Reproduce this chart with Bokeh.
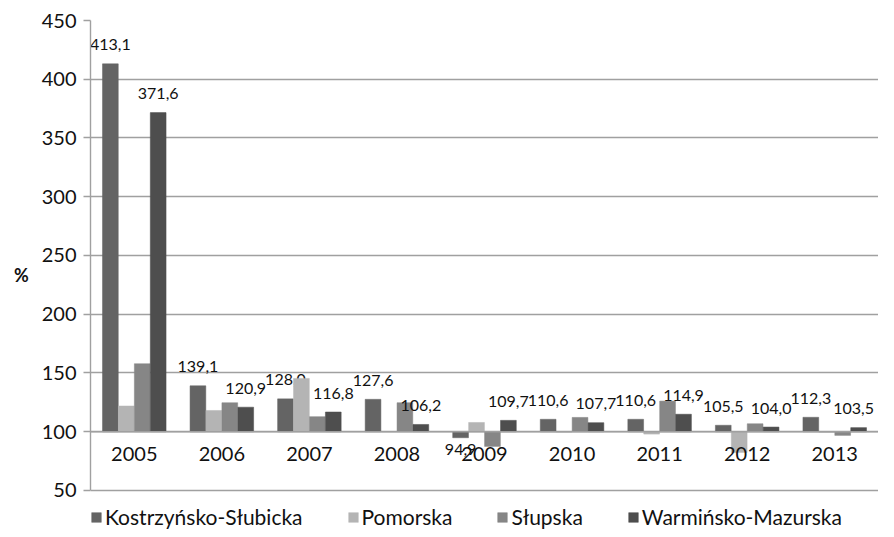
from bokeh.plotting import figure
from bokeh.models import (ColumnDataSource, FactorRange, Range1d, FixedTicker,
                          Legend, LegendItem, Span)
from bokeh.transform import dodge
from bokeh.core.properties import value
from bokeh.embed import file_html
from bokeh.resources import INLINE

years = ["2005", "2006", "2007", "2008", "2009", "2010", "2011", "2012", "2013"]
series_names = ["Kostrzyńsko-Słubicka", "Pomorska", "Słupska", "Warmińsko-Mazurska"]
kostrzynsko = [413.1, 139.1, 128.0, 127.6, 94.9, 110.6, 110.6, 105.5, 112.3]
pomorska = [121.9, 118.1, 145.4, 100.0, 107.9, 99.6, 98.0, 82.4, 99.5]
slupska = [157.9, 124.7, 112.8, 124.7, 87.5, 112.2, 126.1, 106.8, 96.9]
warminsko = [371.6, 120.9, 116.8, 106.2, 109.7, 107.7, 114.9, 104.0, 103.5]
y_ticks = [50, 100, 150, 200, 250, 300, 350, 400, 450]
baseline = 100
labelled = [True, False, False, True]

series_values = [kostrzynsko, pomorska, slupska, warminsko]
colors = ["#646464", "#b4b4b4", "#868686", "#4e4e4e"]
offsets = [-0.273, -0.091, 0.091, 0.273]
FONT = "Lato"

p = figure(width=878, height=529, output_backend="svg", toolbar_location=None,
           x_range=FactorRange(*years, range_padding=0),
           y_range=Range1d(16.8, 450), x_axis_location=None,
           min_border_left=90, min_border_right=0, min_border_top=20,
           min_border_bottom=0)
p.outline_line_color = None
p.background_fill_color = "white"
p.border_fill_color = "white"

p.xgrid.grid_line_color = None
p.ygrid.grid_line_color = "#a0a0a0"
p.ygrid.grid_line_width = 1.4

ax = p.yaxis[0]
ax.ticker = FixedTicker(ticks=y_ticks)
ax.bounds = (y_ticks[0], y_ticks[-1])
ax.axis_line_color = "#a0a0a0"
ax.axis_line_width = 1.4
ax.major_tick_line_color = "#a0a0a0"
ax.major_tick_line_width = 1.4
ax.major_tick_out = 7
ax.major_tick_in = 0
ax.minor_tick_line_color = None
ax.major_label_standoff = 7
ax.major_label_text_font = FONT
ax.major_label_text_font_size = "20px"
ax.major_label_text_color = "#111111"
ax.axis_label = "%"
ax.axis_label_orientation = "horizontal"
ax.axis_label_standoff = 10
ax.axis_label_text_font = FONT
ax.axis_label_text_font_size = "18px"
ax.axis_label_text_font_style = "bold"
ax.axis_label_text_color = "#111111"

p.add_layout(Span(location=baseline, dimension="width", line_color="#a0a0a0",
                  line_width=1.6))

n = len(years)
items = []
for name, vals, col, off, lab in zip(series_names, series_values, colors, offsets, labelled):
    src = ColumnDataSource(dict(
        year=years, val=vals,
        txt=[f"{v:.1f}".replace(".", ",") for v in vals],
        yoff=[-19 if v >= baseline else 12 for v in vals],
        # keep the rightmost label inside the plot frame
        xoff=[-5 if (i == n - 1 and off > 0) else 0 for i in range(n)],
    ))
    r = p.vbar(x=dodge("year", off, range=p.x_range), top="val", bottom=baseline,
               width=0.18, source=src, fill_color=col, line_color=col,
               line_width=0.5)
    items.append(LegendItem(label=name, renderers=[r]))
    if lab:
        p.text(x=dodge("year", off, range=p.x_range), y="val", text="txt",
               y_offset="yoff", x_offset="xoff", source=src, text_align="center",
               text_baseline="middle", text_font=value(FONT),
               text_font_size="16px", text_color="#111111")

cat_src = ColumnDataSource(dict(year=years, y=[baseline] * n))
p.text(x="year", y="y", text="year", source=cat_src, y_offset=22,
       text_align="center", text_baseline="middle", text_font=value(FONT),
       text_font_size="20px", text_color="#111111")

legend = Legend(items=items, orientation="horizontal", location=(0, 0),
                glyph_width=12, glyph_height=12, label_standoff=3, spacing=44,
                margin=0, padding=0, border_line_color=None,
                background_fill_alpha=0, label_text_font=FONT,
                label_text_font_size="21px", label_text_color="#111111")
p.add_layout(legend)

open("out.html", "w").write(file_html(p, INLINE))
